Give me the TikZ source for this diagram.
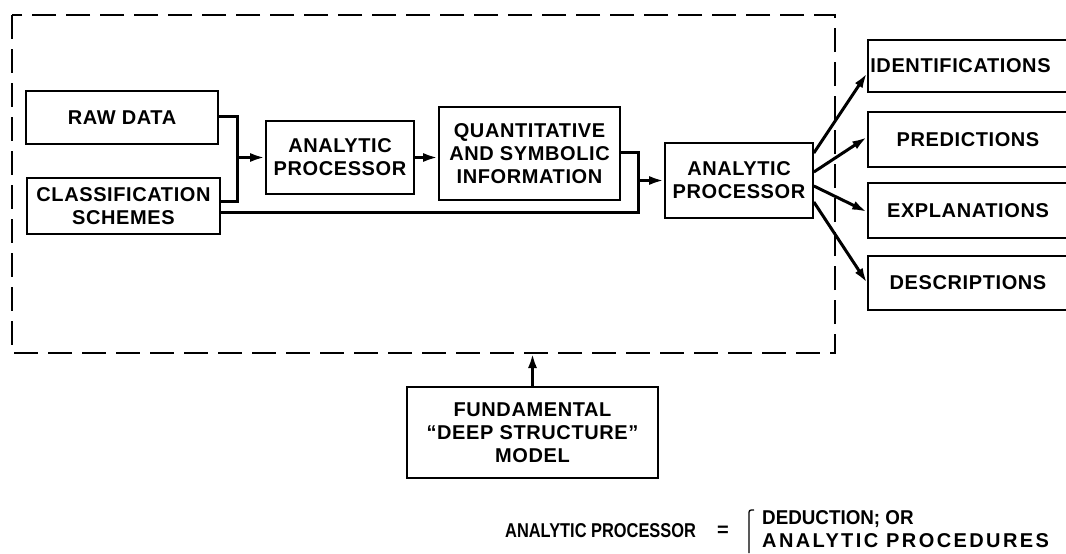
\documentclass[tikz,border=0pt]{standalone}
\usepackage{fontspec}
\setmainfont{Liberation Sans}[LetterSpace=3]
\newfontfamily\plainfont{Liberation Sans}
\newfontfamily\widefont{Liberation Sans}[LetterSpace=12]
\usetikzlibrary{arrows.meta,calc}
\begin{document}
\begin{tikzpicture}[x=1pt,y=-1pt,
  lbl/.style={font=\fontsize{20}{23}\selectfont\bfseries},
  box/.style={draw,line width=1.7pt,inner sep=0pt,align=center,lbl},
  conn/.style={line width=3pt},
  arr/.style={conn,-{Latex[length=15pt,width=9pt]}},
  dashbox/.style={line width=1.9pt,dash pattern=on 24pt off 10pt}]
\useasboundingbox (0,0) rectangle (1066,554);
\clip (0,0) rectangle (1066,554);
\fill[white] (0,0) rectangle (1066,554);

% dashed enclosure
\draw[dashbox] (12,15) rectangle (835,353);
\coordinate (dbot) at (533,353);

% boxes
\node[box,minimum width=192pt,minimum height=53pt] (raw) at (122,117.5) {RAW DATA};
\node[box,minimum width=193pt,minimum height=56pt] (class) at (123.5,206) {CLASSIFICATION\\SCHEMES};
\node[box,minimum width=148pt,minimum height=73pt] (ap1) at (340,157.5) {ANALYTIC\\PROCESSOR};
\node[box,minimum width=181pt,minimum height=93pt] (qsi) at (529.5,153.5) {QUANTITATIVE\\AND SYMBOLIC\\INFORMATION};
\node[box,minimum width=148pt,minimum height=75pt] (ap2) at (739,180.5) {ANALYTIC\\PROCESSOR};

\node[box,minimum width=200pt,minimum height=52pt] (ident) at (968,66) {};
\node[lbl,anchor=west,inner sep=0pt] (identt) at ($(ident.west)+(3,0)$) {IDENTIFICATIONS};
\node[box,minimum width=200pt,minimum height=55pt] (pred) at (968,139.5) {PREDICTIONS};
\node[box,minimum width=200pt,minimum height=55pt] (expl) at (968,210.5) {EXPLANATIONS};
\node[box,minimum width=200pt,minimum height=54pt] (desc) at (968,283) {DESCRIPTIONS};

\node[box,minimum width=251pt,minimum height=91pt] (fund) at (532.5,432.5) {FUNDAMENTAL\\``DEEP STRUCTURE''\\MODEL};

% connectors
\coordinate (j1t) at (237,116);
\coordinate (j1b) at (237,201);
\draw[conn] (raw.east |- j1t) -- (j1t) -- (j1b) -- (class.east |- j1b);
\draw[arr] (ap1.west -| j1t) -- (ap1.west);
\draw[arr] (ap1.east) -- (ap1.east -| qsi.west);

\coordinate (j2t) at (638,152);
\coordinate (j2b) at (638,212);
\draw[conn] (qsi.east |- j2t) -- (j2t) -- (j2b) -- (class.east |- j2b);
\draw[arr] (ap2.west -| j2t) -- (ap2.west);

\draw[arr] ($(ap2.east)+(0,-27.5)$) -- ($(ident.west)+(0,7)$);
\draw[arr] ($(ap2.east)+(0,-8.5)$) -- ($(pred.west)+(0,-2.5)$);
\draw[arr] ($(ap2.east)+(0,5.5)$) -- ($(expl.west)+(0,1.5)$);
\draw[arr] ($(ap2.east)+(0,21.5)$) -- (desc.west);

\draw[arr] (fund.north) -- (fund.north |- dbot);

% definition line
\node[lbl,anchor=west,inner sep=0pt] (apdef) at (505,531) {\plainfont\bfseries\scalebox{0.82}[1]{ANALYTIC PROCESSOR}};
\node[lbl,inner sep=0pt] (eq) at (723,531) {\plainfont\bfseries =};
\draw[line width=1.3pt] (754,510) .. controls (749,510) .. (749,515) -- (749,553);
\node[lbl,anchor=west,inner sep=0pt] (ded) at (762,519) {\plainfont\bfseries\scalebox{0.94}[1]{DEDUCTION; OR}};
\node[lbl,anchor=west,inner sep=0pt] (proc) at (762,541) {\widefont\bfseries ANALYTIC PROCEDURES};
\end{tikzpicture}
\end{document}
